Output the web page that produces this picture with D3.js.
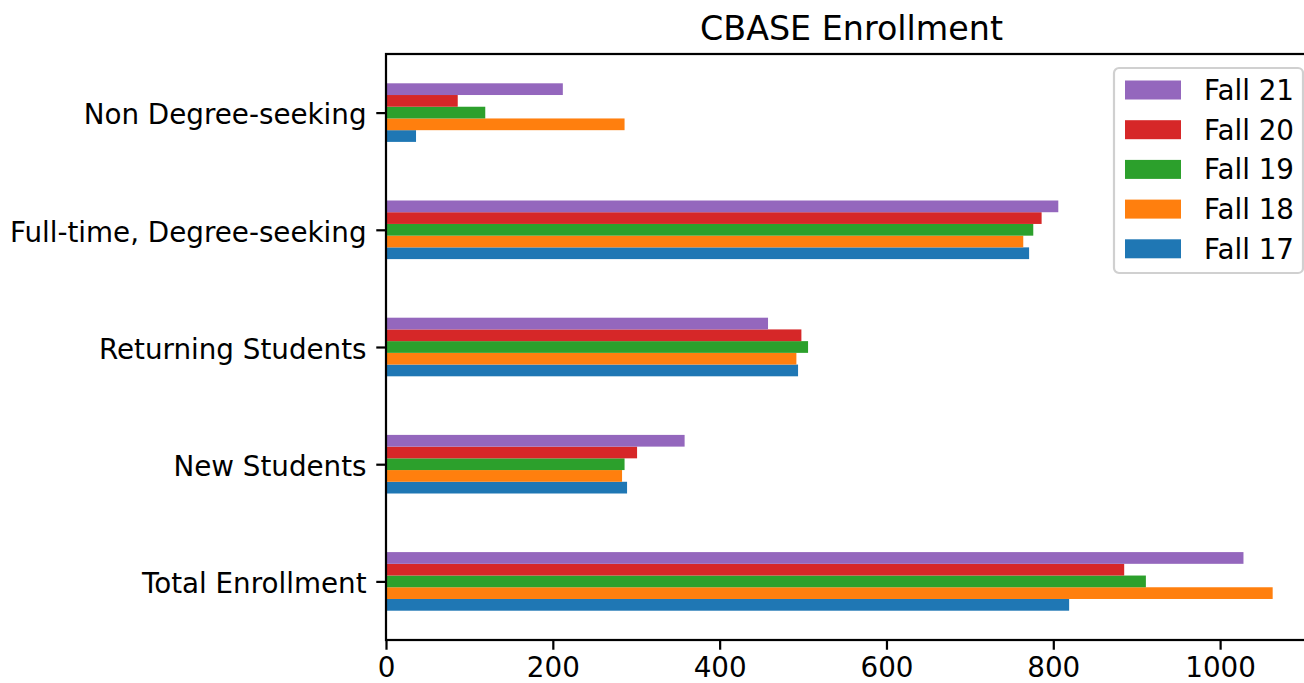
<!DOCTYPE html>
<html>
<head>
<meta charset="utf-8">
<script src="https://cdn.jsdelivr.net/npm/d3@7"></script>
<style>
body { margin: 0; background: #fff; overflow: hidden; }
text { font-family: "DejaVu Sans", sans-serif; fill: #000; }
</style>
</head>
<body>
<script>
var width = 1304;
var height = 683;
var margin = {top: 54, right: -13, bottom: 43, left: 386};
var w = width - margin.left - margin.right;
var h = height - margin.top - margin.bottom;

// categories, bottom to top (as matplotlib barh draws them)
var categories = ["Total Enrollment", "New Students", "Returning Students",
	"Full-time, Degree-seeking", "Non Degree-seeking"];
var seriesNames = ["Fall 17", "Fall 18", "Fall 19", "Fall 20", "Fall 21"];
var colors = ["#1f77b4", "#ff7f0e", "#2ca02c", "#d62728", "#9467bd"];

var fall17 = [819, 289, 494, 771, 36];
var fall18 = [1063, 283, 492, 764, 286];
var fall19 = [911, 286, 506, 776, 119];
var fall20 = [885, 301, 498, 786, 86];
var fall21 = [1028, 358, 458, 806, 212];
var series = [fall17, fall18, fall19, fall20, fall21];

var xTicks = [0, 200, 400, 600, 800, 1000];

var pt = 200 / 72; // figure was drawn at 200 dpi
var fontSize = 10 * pt;

var svg = d3.select("body").append("svg")
	.attr("width", width)
	.attr("height", height);

var chart = svg.append("g")
	.attr("transform", "translate(" + margin.left + "," + margin.top + ")");

var x = d3.scaleLinear()
	.domain([0, 1063 * 1.05])
	.range([0, w]);

// index scale, like matplotlib: category i sits at i, limits -0.5..n-0.5
var y = d3.scaleLinear()
	.domain([-0.5, categories.length - 0.5])
	.range([h, 0]);

var barH = 0.5 / seriesNames.length;

series.forEach(function(vals, s) {
	chart.selectAll(".bar" + s)
		.data(vals)
		.enter().append("rect")
		.attr("x", x(0))
		.attr("y", function(d, i) { return y(i - 0.25 + barH * (s + 1)); })
		.attr("width", function(d) { return x(d) - x(0); })
		.attr("height", y(0) - y(barH))
		.style("fill", colors[s]);
});

var tickLen = 3.5 * pt;

var xAxis = d3.axisBottom(x)
	.tickValues(xTicks)
	.tickFormat(d3.format("d"))
	.tickSize(tickLen)
	.tickPadding(7.6);

chart.append("g")
	.attr("class", "axis")
	.attr("transform", "translate(0," + h + ")")
	.call(xAxis);

var yAxis = d3.axisLeft(y)
	.tickValues(d3.range(categories.length))
	.tickFormat(function(d) { return categories[d]; })
	.tickSize(tickLen)
	.tickPadding(3.5 * pt);

var gy = chart.append("g")
	.attr("class", "axis")
	.call(yAxis);
gy.selectAll("text").attr("dy", "0.41em");

chart.selectAll(".axis .domain").remove();
chart.selectAll(".axis line").style("stroke", "#000").style("stroke-width", 0.8 * pt);
chart.selectAll(".axis text").style("font-size", fontSize + "px").style("font-family", "DejaVu Sans");

// frame
chart.append("rect")
	.attr("x", 0)
	.attr("y", 0)
	.attr("width", w)
	.attr("height", h)
	.style("fill", "none")
	.style("stroke", "#000")
	.style("stroke-width", 0.8 * pt);

// title
svg.append("text")
	.attr("x", margin.left + w / 2)
	.attr("y", 39.5)
	.attr("text-anchor", "middle")
	.style("font-size", (12 * pt) + "px")
	.text("CBASE Enrollment");

// legend (reverse order like matplotlib for barh)
var legend = svg.append("g")
	.attr("transform", "translate(1114,68)");

legend.append("rect")
	.attr("width", 189)
	.attr("height", 205)
	.attr("rx", 5)
	.style("fill", "#fff")
	.style("fill-opacity", 0.8)
	.style("stroke", "#d0d0d0")
	.style("stroke-width", 2.2);

var legendItems = seriesNames.map(function(n, i) { return {name: n, color: colors[i]}; }).reverse();

var item = legend.selectAll(".item")
	.data(legendItems)
	.enter().append("g")
	.attr("transform", function(d, i) { return "translate(0," + (22 + i * 39.7) + ")"; });

item.append("rect")
	.attr("x", 11)
	.attr("y", -9.5)
	.attr("width", 56)
	.attr("height", 19)
	.style("fill", function(d) { return d.color; });

item.append("text")
	.attr("x", 90)
	.attr("y", 10)
	.style("font-size", fontSize + "px")
	.text(function(d) { return d.name; });
</script>
</body>
</html>
